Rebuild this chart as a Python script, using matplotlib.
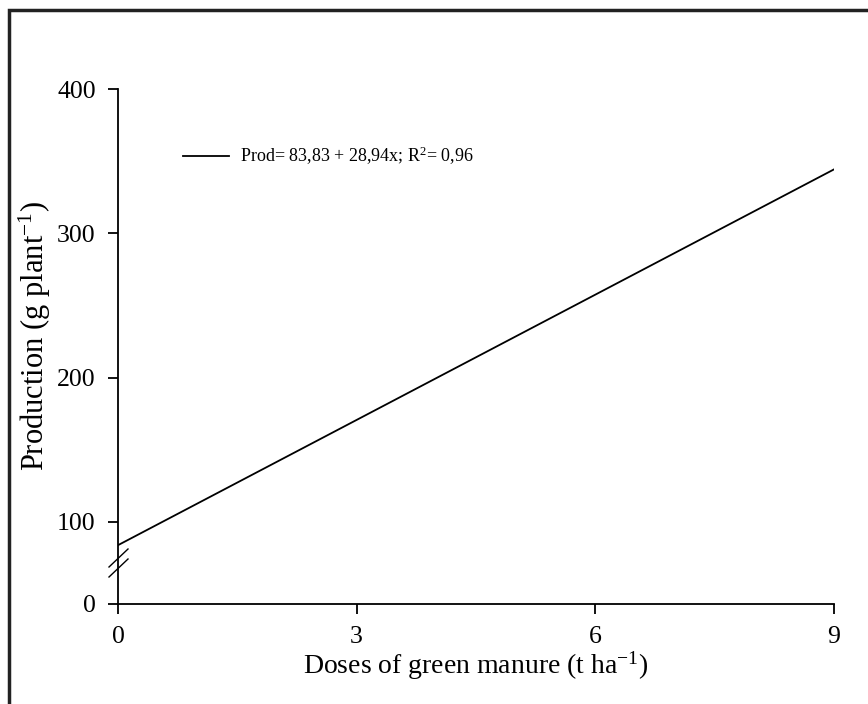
import matplotlib
matplotlib.use("Agg")
import matplotlib.pyplot as plt
from matplotlib.patches import Rectangle
import numpy as np

# Data
intercept = 83.83
slope = 28.94
x_dose = [0, 9]
x_ticks = [0, 3, 6, 9]
y_ticks = [100, 200, 300, 400]
y_break_bottom = 43.06   # axis value placed at the broken "0" tick
legend_label = "Prod= 83,83 + 28,94x; R$^{2}$= 0,96"

plt.rcParams['font.family'] = ['Liberation Serif']
plt.rcParams['mathtext.fontset'] = 'custom'
plt.rcParams['mathtext.rm'] = 'Liberation Serif'
plt.rcParams['mathtext.it'] = 'Liberation Serif:italic'

W, H = 868, 704
fig = plt.figure(figsize=(W/100, H/100), dpi=100)
ax = fig.add_axes([118/W, 1-604/H, (834-118)/W, (604-89)/H])

xs = np.array(x_dose, dtype=float)
ys = intercept + slope*xs
ax.plot(xs, ys, color='black', lw=1.3, label=legend_label)

ax.set_xlim(0, 9)
ax.set_ylim(y_break_bottom, 400)
ax.set_xticks(x_ticks)
ax.set_xticklabels([str(v) for v in x_ticks])
ax.set_yticks([y_break_bottom] + y_ticks)
ax.set_yticklabels(['0'] + [str(v) for v in y_ticks])
for s in ['top', 'right']:
    ax.spines[s].set_visible(False)
for s in ['left', 'bottom']:
    ax.spines[s].set_linewidth(1.3)
ax.tick_params(direction='out', length=7, width=1.3, labelsize=18.5, pad=9)

ax.set_xlabel("Doses of green manure (t ha$^{-1}$)", fontsize=20)
ax.xaxis.set_label_coords(0.5, (604-649)/515)
ax.set_ylabel("Production (g plant$^{-1}$)", fontsize=22)
ax.yaxis.set_label_coords((53-118)/716, (604-336)/515)

leg = ax.legend(loc='upper left', bbox_to_anchor=((183-118)/716, (604-145)/515),
                frameon=False, borderpad=0, borderaxespad=0,
                fontsize=13, handlelength=2.55, handletextpad=0.6)

# break marks on y axis
for y0 in [567, 577]:
    p1 = (109/W, 1-y0/H)
    p2 = (128/W, 1-(y0-18)/H)
    fig.add_artist(plt.Line2D([p1[0], p2[0]], [p1[1], p2[1]], color='black', lw=1.0))

# figure frame (left and top visible)
fig.add_artist(Rectangle((9/W, -0.1), 1.2, 1-10/H+0.1, transform=fig.transFigure,
                         fill=False, edgecolor='#222222', lw=2.5))

fig.savefig("out.png", dpi=100)
